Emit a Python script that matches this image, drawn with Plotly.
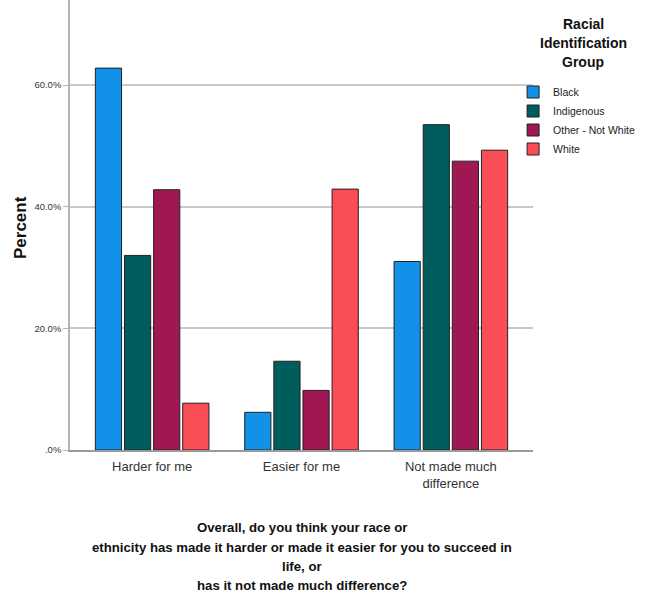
import plotly.graph_objects as go

categories = ["Harder for me", "Easier for me", "Not made much<br>difference"]
groups = ["Black", "Indigenous", "Other - Not White", "White"]
black = [62.8, 6.2, 31.0]
indigenous = [32.0, 14.6, 53.5]
other = [42.8, 9.8, 47.5]
white = [7.7, 42.9, 49.3]
colors = ["#1192e8", "#005d5d", "#9f1853", "#fa4d56"]
ytick_vals = [0, 20, 40, 60]
ytick_text = [".0%", "20.0%", "40.0%", "60.0%"]
legend_title_lines = ["Racial", "Identification", "Group"]
x_title_lines = [
    "Overall, do you think your race or",
    "ethnicity has made it harder or made it easier for you to succeed in",
    "life, or",
    "has it not made much difference?",
]

FONT = "Liberation Sans, Arial, sans-serif"
PLOT_H = 450.0
PLOT_W = 463.0
L = 70.0

fig = go.Figure()
for name, vals, col in zip(groups, [black, indigenous, other, white], colors):
    fig.add_trace(go.Bar(
        x=categories, y=vals, name=name,
        marker=dict(color=col, line=dict(color="#222222", width=1)),
    ))

annos = [
    dict(text="<b>Percent</b>", xref="paper", yref="paper", x=(21 - L) / PLOT_W, y=(PLOT_H - 228) / PLOT_H,
         xanchor="center", yanchor="middle",
         textangle=-90, showarrow=False, font=dict(size=17, family=FONT, color="#111111")),
]
for txt, py in zip(x_title_lines, [527, 547, 566, 585]):
    annos.append(dict(
        text="<b>%s</b>" % txt, xref="paper", yref="paper",
        x=0.5, y=(PLOT_H - py) / PLOT_H, xanchor="center", yanchor="middle",
        showarrow=False, font=dict(size=13.2, family=FONT, color="#111111")))
for txt, py in zip(legend_title_lines, [24, 43, 62]):
    annos.append(dict(
        text="<b>%s</b>" % txt, xref="paper", yref="paper",
        x=(583 - L) / PLOT_W, y=(PLOT_H - py) / PLOT_H, xanchor="center", yanchor="middle",
        showarrow=False, font=dict(size=14, family=FONT, color="#111111")))

fig.update_layout(
    width=646, height=600,
    margin=dict(l=70, r=113, t=0, b=150, autoexpand=False),
    paper_bgcolor="white", plot_bgcolor="white",
    barmode="group", bargap=0.22, bargroupgap=0.1,
    font=dict(family=FONT, color="#222222"),
    showlegend=True,
    legend=dict(
        x=0.957, xanchor="left", y=(PLOT_H - 77.5) / PLOT_H, yanchor="top",
        font=dict(size=10.5, family=FONT, color="#222222"),
        itemwidth=30,
        bgcolor="rgba(0,0,0,0)",
    ),
    xaxis=dict(
        range=[-0.55, 2.55], showline=True, linecolor="#9a9a9a", linewidth=1.5,
        ticks="", tickfont=dict(size=13, family=FONT, color="#333333"),
        ticklabelstandoff=4,
        showgrid=False, fixedrange=True,
    ),
    yaxis=dict(
        range=[0, 74.0], tickvals=ytick_vals, ticktext=ytick_text,
        showline=True, linecolor="#b5b5b5", linewidth=1.5,
        ticks="outside", ticklen=5, tickcolor="#b5b5b5",
        tickfont=dict(size=9.5, family=FONT, color="#333333"),
        showgrid=True, gridcolor="#c8c8c8", gridwidth=1.5,
        zeroline=False, fixedrange=True,
    ),
    annotations=annos,
)

fig.write_html("out.html", post_script="document.body.style.margin='0';",
               config={"displayModeBar": False})
